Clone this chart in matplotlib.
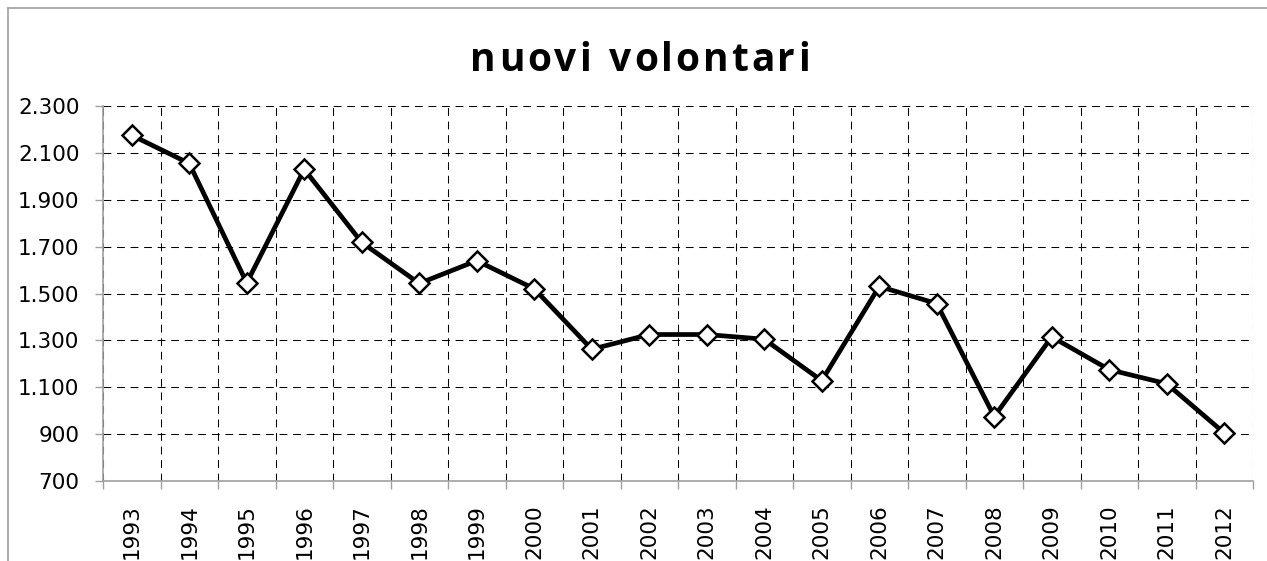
import matplotlib
matplotlib.use("Agg")
import matplotlib.pyplot as plt
from matplotlib.ticker import FixedLocator, FuncFormatter
from matplotlib.lines import Line2D

# data
years = [str(y) for y in range(1993, 2013)]
volontari = [2175, 2055, 1545, 2030, 1718, 1543, 1640, 1520, 1262, 1325,
             1325, 1305, 1128, 1530, 1457, 975, 1315, 1175, 1115, 905]
yticks = list(range(700, 2301, 200))
title = "nuovi volontari"

W, H = 1267, 561
fig = plt.figure(figsize=(W / 100, H / 100), dpi=100)
ax = fig.add_axes([103 / W, 1 - 481 / H, 1150 / W, (481 - 106) / H])

x = list(range(len(years)))
ax.plot(x, volontari, color="black", lw=3.4, marker="D", ms=10,
        mfc="white", mec="black", mew=1.8, zorder=3, clip_on=False)

ax.set_xlim(-0.5, len(years) - 0.5)
ax.set_ylim(yticks[0], yticks[-1])
ax.yaxis.set_major_locator(FixedLocator(yticks))
ax.yaxis.set_major_formatter(FuncFormatter(lambda v, p: f"{int(v):,}".replace(",", ".")))

ax.set_xticks(x)
ax.set_xticklabels(years, rotation=90)
ax.xaxis.set_minor_locator(FixedLocator([i - 0.5 for i in range(len(years) + 1)]))
ax.tick_params(axis="x", which="major", length=0, pad=17, labelsize=15.5)
ax.tick_params(axis="x", which="minor", length=6, width=1, color="#a0a0a0")
ax.tick_params(axis="y", length=6, width=1, color="#a0a0a0", pad=11, labelsize=15.5)

# thin dashed grid, dash ~8px / gap ~6px
ax.grid(True, axis="x", which="minor", color="black", ls=(0, (7.5, 5.5)), lw=0.75)
ax.grid(True, axis="y", which="major", color="black", ls=(0, (7.5, 5.5)), lw=0.75)
ax.grid(False, axis="x", which="major")
ax.set_axisbelow(True)

for s in ["top", "right"]:
    ax.spines[s].set_visible(False)
for s in ["left", "bottom"]:
    ax.spines[s].set_color("#a0a0a0")
    ax.spines[s].set_linewidth(1.2)

# title with letter spacing: place characters one by one
renderer = fig.canvas.get_renderer()
tkw = dict(fontsize=28, fontweight="bold", family="Open Sans", va="baseline")
spacing = 3.0
widths = []
for ch in title:
    t = fig.text(0, 0, ch.replace(" ", "n"), **tkw)
    w = t.get_window_extent(renderer).width
    if ch == " ":
        w *= 0.45
    widths.append(w)
    t.remove()
total = sum(widths) + spacing * (len(title) - 1)
xpos = (472 + 808) / 2 - total / 2
for ch, w in zip(title, widths):
    if ch != " ":
        fig.text(xpos / W, 1 - 71 / H, ch, ha="left", **tkw)
    xpos += w + spacing

# outer chart border (only left and top visible in the reference)
fig.add_artist(Line2D([8 / W, 8 / W], [0, 1 - 8 / H], color="#a0a0a0", lw=1.2))
fig.add_artist(Line2D([8 / W, 1], [1 - 8 / H, 1 - 8 / H], color="#a0a0a0", lw=1.2))

fig.savefig("out.png", dpi=100)
